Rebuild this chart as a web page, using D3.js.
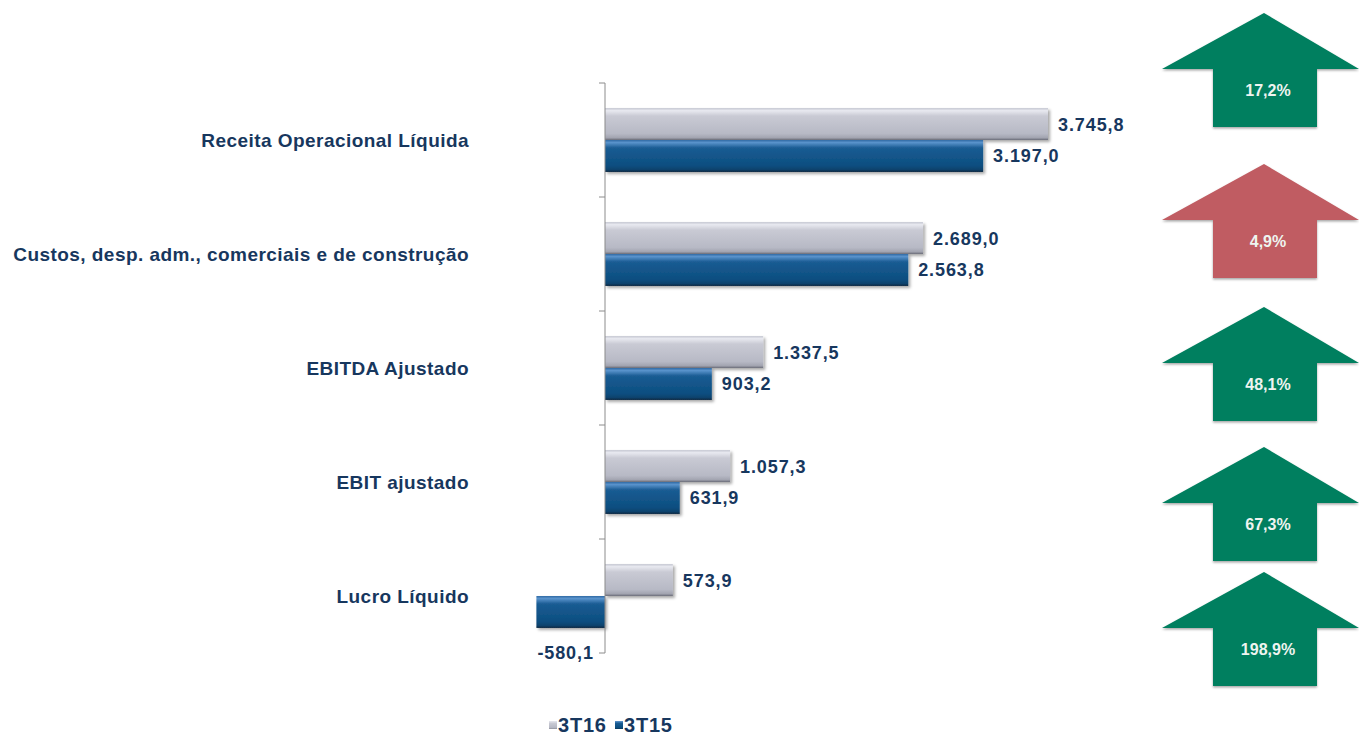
<!DOCTYPE html>
<html>
<head>
<meta charset="utf-8">
<script src="https://cdn.jsdelivr.net/npm/d3@7"></script>
<style>
  body { margin: 0; background: #fff; }
  svg { display: block; font-family: "Liberation Sans", Arial, sans-serif; }
</style>
</head>
<body>
<svg id="chart"></svg>
<script>
// data
var categories = ["Receita Operacional Líquida", "Custos, desp. adm., comerciais e de construção", "EBITDA Ajustado", "EBIT ajustado", "Lucro Líquido"];
var series = ["3T16", "3T15"];
var values3T16 = [3745.8, 2689.0, 1337.5, 1057.3, 573.9];
var values3T15 = [3197.0, 2563.8, 903.2, 631.9, -580.1];
var changeLabels = ["17,2%", "4,9%", "48,1%", "67,3%", "198,9%"];
var changeGood = [true, false, true, true, true];

// layout of the arrow annotations (top of each arrow)
var arrowTop = [13, 164, 307, 447, 572];

var W = 1359, H = 735;
var navy = "#17375e";

var svg = d3.select("#chart").attr("width", W).attr("height", H);

var br = d3.formatLocale({decimal: ",", thousands: ".", grouping: [3], currency: ["R$", ""], minus: "-"});
var fmt = br.format(",.1f");

var xScale = d3.scaleLinear().domain([0, 3745.8]).range([605, 1048]);
var yScale = d3.scaleBand().domain(categories).range([83, 653]).paddingInner(0.44).paddingOuter(0.22);
var ySub = d3.scaleBand().domain(series).range([0, yScale.bandwidth()]);

var defs = svg.append("defs");
function grad(id, stops) {
    var g = defs.append("linearGradient").attr("id", id)
        .attr("x1", 0).attr("y1", 0).attr("x2", 0).attr("y2", 1);
    stops.forEach(function(s) {
        g.append("stop").attr("offset", s[0]).attr("stop-color", s[1]);
    });
}
grad("gGray", [[0, "#c4c6d0"], [0.08, "#e8e9f0"], [0.25, "#c9cad4"], [0.8, "#b7b9c5"], [0.93, "#a2a4b0"], [1, "#6a6c78"]]);
grad("gBlue", [[0, "#2f6aa4"], [0.08, "#5a93cc"], [0.25, "#1a5c93"], [0.8, "#0c4e80"], [0.93, "#0b426c"], [1, "#06243c"]]);

var shadow = defs.append("filter").attr("id", "shadow")
    .attr("x", "-10%").attr("y", "-20%").attr("width", "130%").attr("height", "160%");
shadow.append("feDropShadow").attr("dx", 2).attr("dy", 2).attr("stdDeviation", 1.5)
    .attr("flood-color", "#000").attr("flood-opacity", 0.35);

var ashadow = defs.append("filter").attr("id", "ashadow")
    .attr("x", "-10%").attr("y", "-10%").attr("width", "120%").attr("height", "130%");
ashadow.append("feDropShadow").attr("dx", 0).attr("dy", 1.5).attr("stdDeviation", 0.8)
    .attr("flood-color", "#000").attr("flood-opacity", 0.35);

var rows = categories.map(function(c, i) {
    return {cat: c, vals: [{s: "3T16", v: values3T16[i]}, {s: "3T15", v: values3T15[i]}]};
});

// bars
var groups = svg.selectAll(".cat")
    .data(rows)
    .enter().append("g")
    .attr("class", "cat")
    .attr("transform", function(d) { return "translate(0," + yScale(d.cat) + ")"; });

groups.selectAll("rect")
    .data(function(d) { return d.vals; })
    .enter().append("rect")
    .attr("x", function(d) { return xScale(Math.min(0, d.v)); })
    .attr("y", function(d) { return ySub(d.s); })
    .attr("width", function(d) { return Math.abs(xScale(d.v) - xScale(0)); })
    .attr("height", ySub.bandwidth())
    .attr("fill", function(d) { return d.s == "3T16" ? "url(#gGray)" : "url(#gBlue)"; })
    .attr("filter", "url(#shadow)");

groups.selectAll(".val")
    .data(function(d) { return d.vals; })
    .enter().append("text")
    .attr("class", "val")
    .attr("x", function(d) { return d.v >= 0 ? xScale(d.v) + 10 : xScale(d.v) + 1; })
    .attr("y", function(d) { return d.v >= 0 ? ySub(d.s) + ySub.bandwidth() / 2 : ySub(d.s) + ySub.bandwidth() + 25; })
    .attr("dy", "0.36em")
    .attr("fill", navy)
    .attr("font-size", "18px")
    .attr("font-weight", "bold")
    .attr("letter-spacing", "0.9px")
    .text(function(d) { return fmt(d.v); });

// axis
var axis = svg.append("g")
    .attr("transform", "translate(" + xScale(0) + ",0)");
axis.append("line")
    .attr("x1", 0).attr("x2", 0).attr("y1", 83).attr("y2", 653)
    .attr("stroke", "#8c8c8c").attr("stroke-width", 1);
var tickYs = categories.map(function(c) { return yScale(c) - yScale.step() * 0.22; });
tickYs.push(653);
axis.selectAll(".tick")
    .data(tickYs)
    .enter().append("line")
    .attr("x1", -6).attr("x2", 0)
    .attr("y1", function(d) { return d; }).attr("y2", function(d) { return d; })
    .attr("stroke", "#8c8c8c");

// category labels
svg.selectAll(".catLabel")
    .data(categories)
    .enter().append("text")
    .attr("class", "catLabel")
    .attr("x", 469)
    .attr("y", function(d) { return yScale(d) + yScale.bandwidth() / 2; })
    .attr("dy", "0.36em")
    .attr("text-anchor", "end")
    .attr("fill", navy)
    .attr("font-size", "19px")
    .attr("font-weight", "bold")
    .attr("letter-spacing", "0.45px")
    .text(function(d) { return d; });

// arrows
function arrowPath(t) {
    var p = [[1264, t], [1359, t + 56], [1317, t + 56], [1317, t + 114], [1213, t + 114], [1213, t + 56], [1162, t + 56]];
    return "M" + p.map(function(q) { return q.join(","); }).join("L") + "Z";
}
var arrows = svg.selectAll(".arrow")
    .data(changeLabels)
    .enter().append("g")
    .attr("class", "arrow");
arrows.append("path")
    .attr("d", function(d, i) { return arrowPath(arrowTop[i]); })
    .attr("fill", function(d, i) { return changeGood[i] ? "#007f5e" : "#c05c62"; })
    .attr("filter", "url(#ashadow)");
arrows.append("text")
    .attr("x", 1268)
    .attr("y", function(d, i) { return arrowTop[i] + 83; })
    .attr("text-anchor", "middle")
    .attr("fill", "#eef4f0")
    .attr("font-size", "16px")
    .attr("font-weight", "bold")
    .text(function(d) { return d; });

// legend
var legend = svg.append("g").attr("transform", "translate(549,725)");
var lx = [0, 66];
series.forEach(function(s, i) {
    legend.append("rect")
        .attr("x", lx[i]).attr("y", -4).attr("width", 8).attr("height", 8)
        .attr("fill", i == 0 ? "url(#gGray)" : "url(#gBlue)");
    legend.append("text")
        .attr("x", lx[i] + 9).attr("y", 0)
        .attr("dy", "0.36em")
        .attr("fill", navy)
        .attr("font-size", "20px")
        .attr("font-weight", "bold")
        .attr("letter-spacing", "0.8px")
        .text(s);
});
</script>
</body>
</html>
